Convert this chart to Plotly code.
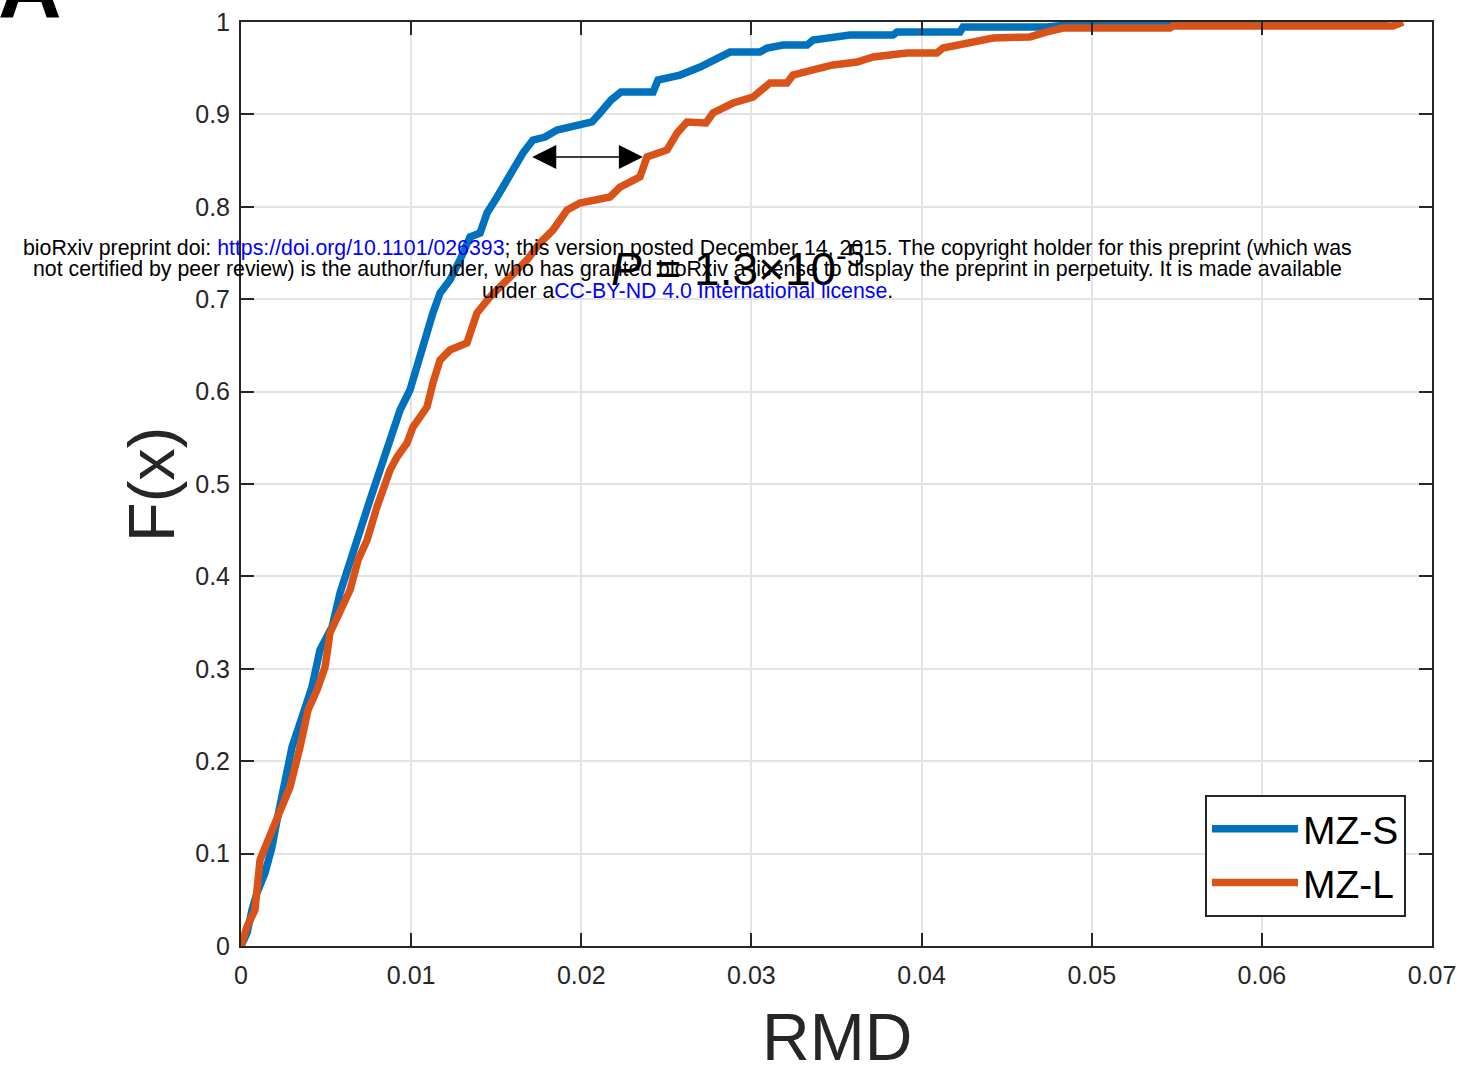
import plotly.graph_objects as go

mzs_x = [0, 0.000353, 0.000647, 0.00094, 0.00141, 0.00182, 0.00212, 0.00247, 0.00300, 0.00359,
         0.00417, 0.00464, 0.00535, 0.00582, 0.00641, 0.00700, 0.00758, 0.00817, 0.00876, 0.00935,
         0.00993, 0.01070, 0.01128, 0.01170, 0.01228, 0.01287, 0.01346, 0.01405, 0.01446, 0.01505,
         0.01563, 0.01599, 0.01657, 0.01716, 0.01787, 0.01857, 0.01951, 0.02063, 0.02110, 0.02175,
         0.02233, 0.02422, 0.02451, 0.02580, 0.02698, 0.02815, 0.02874, 0.03050, 0.03092, 0.03186,
         0.03327, 0.03362, 0.03479, 0.03579, 0.03832, 0.03856, 0.04226, 0.04244, 0.04737, 0.04914,
         0.06724, 0.06736]
mzs_f = [0, 0.0141, 0.0390, 0.0574, 0.0790, 0.1071, 0.1364, 0.1656, 0.2154, 0.2478,
         0.2803, 0.3203, 0.3452, 0.3820, 0.4177, 0.4535, 0.4827, 0.5152, 0.5476, 0.5801,
         0.6017, 0.6526, 0.6851, 0.7067, 0.7208, 0.7424, 0.7673, 0.7716, 0.7933, 0.8106,
         0.8290, 0.8431, 0.8582, 0.8723, 0.8755, 0.8831, 0.8864, 0.8918, 0.9015, 0.9156,
         0.9242, 0.9242, 0.9372, 0.9426, 0.9513, 0.9621, 0.9675, 0.9675, 0.9719, 0.9751,
         0.9751, 0.9805, 0.9838, 0.9859, 0.9859, 0.9892, 0.9892, 0.9946, 0.9946, 0.9978,
         0.9978, 1.0]

mzl_x = [0, 0.00035, 0.00082, 0.00112, 0.00159, 0.00200, 0.00247, 0.00288, 0.00347, 0.00394,
         0.00447, 0.00494, 0.00523, 0.00582, 0.00641, 0.00688, 0.00741, 0.00799, 0.00835, 0.00876,
         0.00917, 0.00976, 0.01011, 0.01093, 0.01128, 0.01170, 0.01228, 0.01328, 0.01387, 0.01463,
         0.01581, 0.01681, 0.01757, 0.01834, 0.01916, 0.01992, 0.02169, 0.02228, 0.02345, 0.02386,
         0.02504, 0.02563, 0.02621, 0.02733, 0.02774, 0.02892, 0.03009, 0.03109, 0.03209, 0.03244,
         0.03362, 0.03479, 0.03621, 0.03715, 0.03914, 0.04091, 0.04126, 0.04208, 0.04267, 0.04420,
         0.04637, 0.04696, 0.04737, 0.04831, 0.05460, 0.05478, 0.06771, 0.06830]
mzl_f = [0, 0.0206, 0.0390, 0.0931, 0.1147, 0.1331, 0.1548, 0.1721, 0.2154, 0.2554,
         0.2771, 0.3019, 0.3387, 0.3636, 0.3853, 0.4177, 0.4394, 0.4751, 0.4968, 0.5152,
         0.5292, 0.5444, 0.5617, 0.5833, 0.6093, 0.6342, 0.6450, 0.6526, 0.6851, 0.7024,
         0.7240, 0.7424, 0.7608, 0.7749, 0.7965, 0.8041, 0.8106, 0.8214, 0.8323, 0.8539,
         0.8615, 0.8799, 0.8918, 0.8907, 0.9015, 0.9123, 0.9188, 0.9340, 0.9340, 0.9426,
         0.9481, 0.9535, 0.9567, 0.9621, 0.9665, 0.9665, 0.9719, 0.9751, 0.9773, 0.9827,
         0.9838, 0.9881, 0.9892, 0.9935, 0.9935, 0.9957, 0.9957, 1.0]

x_ticks = [0, 0.01, 0.02, 0.03, 0.04, 0.05, 0.06, 0.07]
x_tick_labels = ["0", "0.01", "0.02", "0.03", "0.04", "0.05", "0.06", "0.07"]
y_ticks = [0, 0.1, 0.2, 0.3, 0.4, 0.5, 0.6, 0.7, 0.8, 0.9, 1]
y_tick_labels = ["0", "0.1", "0.2", "0.3", "0.4", "0.5", "0.6", "0.7", "0.8", "0.9", "1"]

# arrow between curves (data coords)
arrow_y = 0.854
arrow_x0 = 0.01703
arrow_x1 = 0.02362

BLUE = "#0072BD"
ORANGE = "#D95319"
AX = "#262626"
FONT = "Liberation Sans, Arial, sans-serif"

L, R, T, B = 241, 1432, 22, 946  # target plot-area box in pixels

fig = go.Figure()
fig.add_trace(go.Scatter(x=mzs_x, y=mzs_f, mode="lines", name="MZ-S",
                         line=dict(color=BLUE, width=7.5)))
fig.add_trace(go.Scatter(x=mzl_x, y=mzl_f, mode="lines", name="MZ-L",
                         line=dict(color=ORANGE, width=7.5)))

axis_common = dict(showline=True, linecolor=AX, linewidth=2, mirror="ticks",
                   ticks="inside", ticklen=13, tickwidth=2, tickcolor=AX,
                   showgrid=True, gridcolor="#e3e3e3", gridwidth=1.5,
                   zeroline=False, tickfont=dict(family=FONT, size=25, color=AX),
                   automargin=False)

fig.update_layout(
    width=1464, height=1069,
    margin=dict(l=L, r=1464 - R, t=T, b=1069 - B, autoexpand=False),
    paper_bgcolor="white", plot_bgcolor="white",
    showlegend=True,
    legend=dict(x=(1406 - L) / float(R - L), y=(B - 917) / float(B - T),
                xanchor="right", yanchor="bottom",
                bgcolor="white", bordercolor=AX, borderwidth=2,
                font=dict(family=FONT, size=39, color="black"),
                itemwidth=86, tracegroupgap=0),
    xaxis=dict(range=[0, 0.07], tickvals=x_ticks, ticktext=x_tick_labels,
               ticklabelstandoff=6, **axis_common),
    yaxis=dict(range=[0, 1], tickvals=y_ticks, ticktext=y_tick_labels,
               ticklabelstandoff=4, **axis_common),
)

def px2paper(px, py):
    return (px - L) / float(R - L), (B - py) / float(B - T)

anns = []
# axis titles
x, y = px2paper(837, 1037)
anns.append(dict(text="RMD", x=x, y=y, xref="paper", yref="paper", showarrow=False,
                 font=dict(family=FONT, size=66, color=AX), xanchor="center", yanchor="middle"))
x, y = px2paper(151, 484)
anns.append(dict(text="F(x)", x=x, y=y, xref="paper", yref="paper", showarrow=False,
                 textangle=-90, font=dict(family=FONT, size=65, color=AX),
                 xanchor="center", yanchor="middle"))
# P-value text
x, y = px2paper(738, 266)
anns.append(dict(text="<i>P</i> = 1.3×10<sup>-5</sup>", x=x, y=y, xref="paper", yref="paper",
                 showarrow=False, font=dict(family=FONT, size=46, color="black"),
                 xanchor="center", yanchor="middle"))
# double arrow
anns.append(dict(x=arrow_x1, y=arrow_y, ax=arrow_x0, ay=arrow_y, xref="x", yref="y",
                 axref="x", ayref="y", text="", showarrow=True, arrowside="end+start",
                 arrowhead=2, arrowsize=3.2, arrowwidth=1.5, arrowcolor="black"))
# bioRxiv watermark
wm_font = dict(family=FONT, size=21.3, color="black")
blue_link = "color:#0000ff"
lines = [
    (248, 'bioRxiv preprint doi: <span style="%s">https://doi.org/10.1101/026393</span>; this version posted December 14, 2015. The copyright holder for this preprint (which was' % blue_link),
    (269, 'not certified by peer review) is the author/funder, who has granted bioRxiv a license to display the preprint in perpetuity. It is made available'),
    (291, 'under a<span style="%s">CC-BY-ND 4.0 International license</span>.' % blue_link),
]
for py, t in lines:
    x, y = px2paper(687, py)
    anns.append(dict(text=t, x=x, y=y, xref="paper", yref="paper", showarrow=False,
                     font=wm_font, xanchor="center", yanchor="middle"))
# panel letter (cut off at top)
x, y = px2paper(-4, 38)
anns.append(dict(text="<b>A</b>", x=x, y=y, xref="paper", yref="paper", showarrow=False,
                 font=dict(family=FONT, size=88, color="black"), xanchor="left", yanchor="bottom"))

fig.update_layout(annotations=anns)
fig.write_html("out.html")
